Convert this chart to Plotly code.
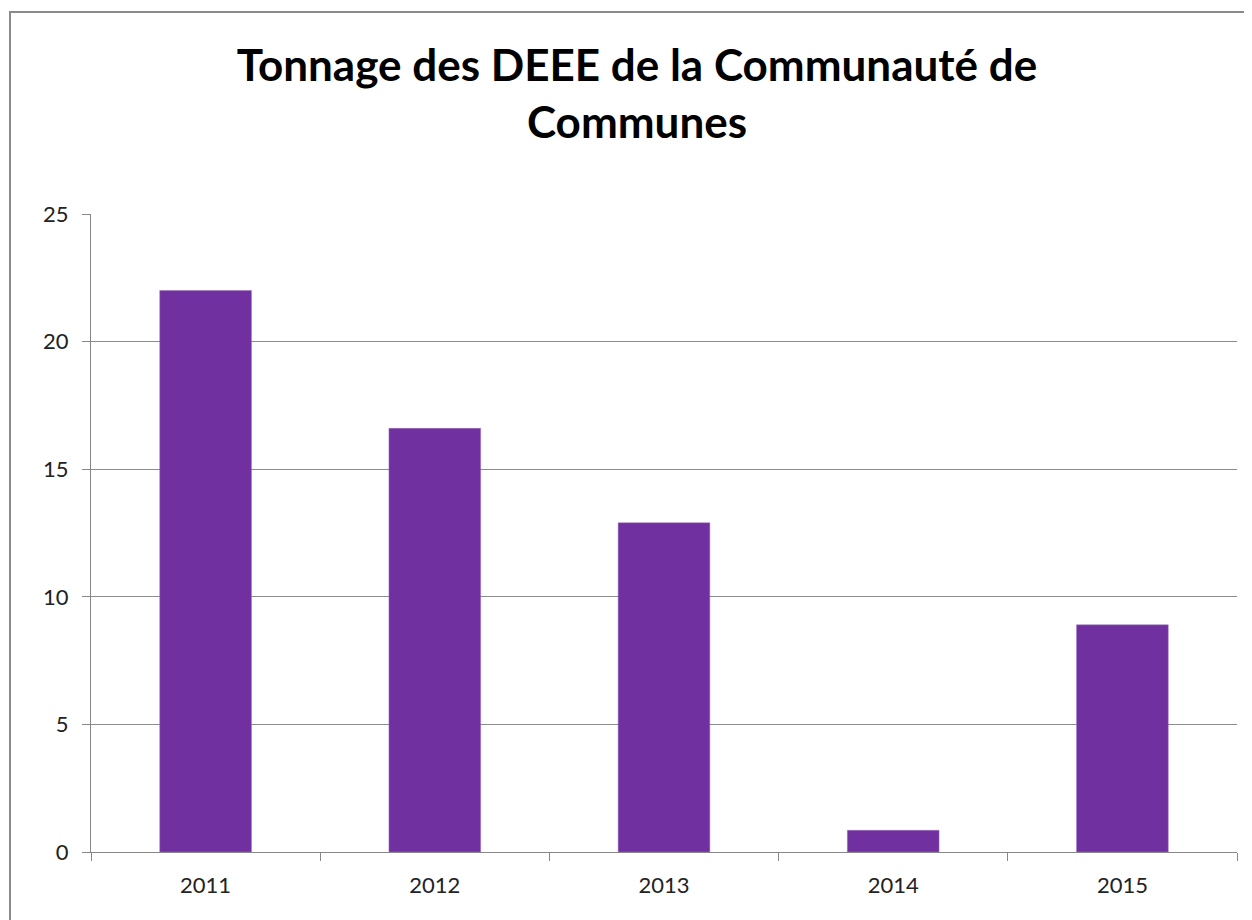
import plotly.graph_objects as go

years = ["2011", "2012", "2013", "2014", "2015"]
tonnage = [22.0, 16.6, 12.9, 0.85, 8.9]
y_ticks = [0, 5, 10, 15, 20, 25]

fig = go.Figure()
fig.add_trace(go.Bar(
    x=years, y=tonnage,
    marker=dict(color="#7030A0", line=dict(color="#9a6cc0", width=0.5)),
))

OFF = 8  # page body margin offset
W, H = 1252, 920
L, R, T, B = 91 - OFF, W + OFF - 1237, 214 - OFF, H + OFF - 852
pw, ph = W - L - R, H - T - B

def px_x(p):
    return (p - OFF - L) / pw

def px_y(p):
    return (H - B - (p - OFF)) / ph

fig.update_layout(
    width=W, height=H,
    margin=dict(l=L, r=R, t=T, b=B),
    paper_bgcolor="white", plot_bgcolor="white",
    showlegend=False,
    bargap=0.6,
    title=dict(
        text="Tonnage des DEEE de la Communauté de<br>Communes",
        x=px_x(637), xanchor="center", xref="paper",
        y=1 - (81 - OFF) / H, yanchor="middle",
        font=dict(family="Lato", size=44, color="black", weight="bold"),
    ),
    font=dict(family="Lato", size=22, color="#222"),
    xaxis=dict(
        type="category", tickson="boundaries", ticks="outside", ticklen=8,
        tickcolor="#888", showline=True, linecolor="#888", linewidth=1,
        showgrid=False, tickfont=dict(size=22, color="#222"),
        ticklabelstandoff=14,
    ),
    yaxis=dict(
        range=[0, 25], tickvals=y_ticks, ticks="outside", ticklen=8,
        tickcolor="#888", showline=True, linecolor="#888", linewidth=1,
        showgrid=True, gridcolor="#8c8c8c", gridwidth=1, zeroline=False,
        tickfont=dict(size=22, color="#222"), ticklabelstandoff=9,
    ),
    shapes=[dict(
        type="rect", xref="paper", yref="paper",
        x0=px_x(10), x1=px_x(1247), y0=px_y(960), y1=px_y(12),
        line=dict(color="#8a8a8a", width=2), layer="above",
    )],
)

fig.write_html("out.html")
